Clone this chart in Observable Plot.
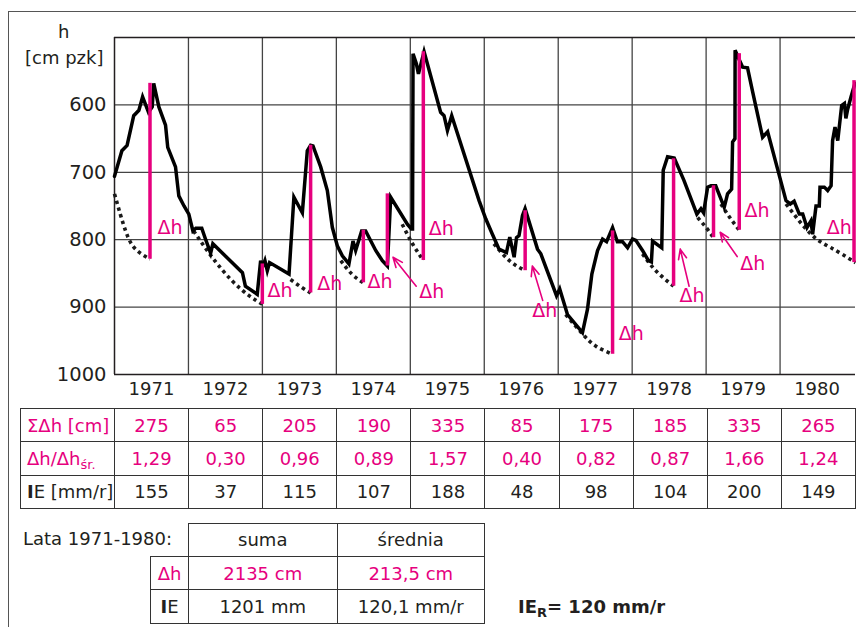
<!DOCTYPE html>
<html><head><meta charset="utf-8">
<script src="https://cdn.jsdelivr.net/npm/d3@7"></script>
<script src="https://cdn.jsdelivr.net/npm/@observablehq/plot@0.6"></script>
<style>
body{margin:0;background:#fff;}
#wrap{position:relative;width:856px;height:627px;overflow:hidden;font-family:"DejaVu Sans",sans-serif;color:#231f20;}
#frame{position:absolute;left:8px;top:11px;width:900px;height:700px;border-top:1.5px solid #555;border-left:1.5px solid #555;box-sizing:border-box;}
#wrap svg{position:absolute;left:0;top:0;}
table{position:absolute;border-collapse:collapse;table-layout:fixed;font-size:18px;}
td{border:1.5px solid #333;text-align:center;padding:0;white-space:nowrap;overflow:visible;}
.m{color:#e6007e;}
.lbl{text-align:left;padding-left:6px;}
.abs{position:absolute;white-space:nowrap;font-size:18px;line-height:1;}
sub{font-size:13px;vertical-align:-4px;line-height:0;}
</style></head><body><div id="wrap"><div id="frame"></div></div>
<script>
const MAG = "#e6007e";
const INK = "#231f20";

// table data
const years = [1971,1972,1973,1974,1975,1976,1977,1978,1979,1980];
const sumDh = [275,65,205,190,335,85,175,185,335,265];
const ratio = ["1,29","0,30","0,96","0,89","1,57","0,40","0,82","0,87","1,66","1,24"];
const ieYear = [155,37,115,107,188,48,98,104,200,149];
const yTicks = [600,700,800,900,1000];
const summaryCols = ["suma","średnia"];
const summaryDh = ["2135 cm","213,5 cm"];
const summaryIE = ["1201 mm","120,1 mm/r"];

// groundwater level h [cm pzk] vs time (decimal years)
const hydroT = [1971.00,1971.10,1971.17,1971.26,1971.33,1971.38,1971.46,1971.51,1971.53,1971.60,1971.69,1971.72,1971.825,1971.87,1971.94,1972.005,1972.06,1972.10,1972.18,1972.23,1972.30,1972.33,1972.73,1972.77,1972.93,1972.976,1973.00,1973.034,1973.066,1973.097,1973.36,1973.426,1973.54,1973.607,1973.652,1973.684,1973.788,1973.878,1973.946,1974.013,1974.081,1974.17,1974.225,1974.261,1974.342,1974.396,1974.532,1974.622,1974.69,1974.735,1974.96,1975.015,1975.03,1975.037,1975.082,1975.11,1975.186,1975.41,1975.456,1975.502,1975.56,1975.93,1976.02,1976.11,1976.20,1976.30,1976.345,1976.404,1976.436,1976.47,1976.517,1976.552,1976.72,1976.765,1976.977,1977.02,1977.125,1977.328,1977.396,1977.455,1977.532,1977.60,1977.654,1977.735,1977.80,1977.87,1977.938,1978.005,1978.05,1978.14,1978.22,1978.26,1978.276,1978.40,1978.42,1978.479,1978.569,1978.70,1978.875,1978.93,1978.966,1979.02,1979.065,1979.13,1979.245,1979.29,1979.345,1979.358,1979.39,1979.392,1979.448,1979.494,1979.56,1979.63,1979.764,1979.832,1980.08,1980.138,1980.19,1980.26,1980.306,1980.364,1980.418,1980.44,1980.486,1980.53,1980.54,1980.598,1980.644,1980.69,1980.71,1980.743,1980.78,1980.833,1980.87,1980.89,1980.915,1980.96,1981.013];
const hydroH = [706,668,660,616,608,588,611,603,568,603,630,663,692,735,750,762,787,783,783,799,820,806,849,869,881,831,841,831,846,834,851,737,760,668,660,661,692,727,782,809,824,836,802,816,787,787,816,831,839,737,777,784,784,524,539,554,521,611,616,638,616,742,769,792,814,819,796,826,797,794,764,754,814,821,883,873,911,938,903,851,816,799,803,782,803,803,812,799,801,816,831,833,802,812,697,677,679,712,762,754,760,722,720,720,752,732,725,655,650,519,533,544,545,581,648,640,742,747,743,762,762,782,772,792,750,750,722,722,727,720,653,633,653,601,598,620,606,588,568];

// recession (dotted) curves
const recId = [1,1,1,1, 2,2,2,2,2, 3,3,3, 4,4,4, 5,5,5, 6,6,6, 7,7,7,7, 8,8,8, 9,9,9, 10,10,10, 11,11,11,11];
const recT = [1971.0,1971.15,1971.285,1971.48, 1972.07,1972.32,1972.59,1972.82,1973.0, 1973.38,1973.52,1973.652, 1974.06,1974.21,1974.365, 1974.89,1975.03,1975.176, 1976.13,1976.34,1976.553, 1977.10,1977.33,1977.51,1977.735, 1978.14,1978.32,1978.56, 1978.885,1979.0,1979.10, 1979.2,1979.32,1979.448, 1980.08,1980.42,1980.69,1981.02];
const recH = [732,787,814,829, 787,826,861,883,896, 859,870,879, 831,851,864, 777,806,831, 806,831,846, 911,940,958,970, 821,846,869, 767,782,797, 747,767,786, 747,792,812,834];

// Δh bars
const barT = [1971.48,1972.999,1973.652,1974.365,1974.69,1975.176,1976.553,1977.735,1978.56,1979.10,1979.448,1981.0];
const barTop = [568,836,660,786,732,521,757,787,680,720,524,564];
const barBottom = [829,896,879,864,839,831,846,970,869,797,786,834];

// Δh labels
const labT = [1971.58,1973.07,1973.74,1974.42,1975.12,1975.25,1976.65,1977.82,1978.64,1979.46,1979.52,1980.63];
const labH = [782,876,865,862,877,784,906,940,883,836,758,782];

// arrows from labels to bars
const arrT1 = [1975.08,1976.79,1978.77,1979.42];
const arrH1 = [869,890,869,825];
const arrT2 = [1974.766,1976.65,1978.65,1979.19];
const arrH2 = [826,839,814,789];

const hydro = hydroT.map((t,i)=>({t, h: hydroH[i]}));
const rec = recT.map((t,i)=>({t, h: recH[i], id: recId[i]}));
const bars = barT.map((t,i)=>({t, top: barTop[i], bottom: barBottom[i]}));
const labs = labT.map((t,i)=>({t, h: labH[i]}));
const arrs = arrT1.map((t,i)=>({x1:t, y1:arrH1[i], x2:arrT2[i], y2:arrH2[i]}));
const inner = years.slice(1);

const chart = Plot.plot({
  width: 856, height: 627,
  marginLeft: 114, marginRight: 1, marginTop: 37, marginBottom: 253,
  x: {domain: [1971, 1981.02]},
  y: {domain: [1000, 500]},
  style: {fontFamily: "DejaVu Sans, sans-serif", fontSize: "18px", color: INK, background: "none"},
  marks: [
    Plot.ruleX(inner, {stroke: "#444", strokeWidth: 1.3}),
    Plot.ruleY([600,700,800,900], {stroke: "#444", strokeWidth: 1.3}),
    Plot.ruleY([500, 1000], {stroke: INK, strokeWidth: 1.5}),
    Plot.ruleX([1971], {stroke: INK, strokeWidth: 1.5}),
    Plot.line(rec, {x: "t", y: "h", z: "id", curve: "natural", stroke: "#1a1a1a", strokeWidth: 3.6, strokeDasharray: "3.4,3.6", strokeLinecap: "butt"}),
    Plot.line(hydro, {x: "t", y: "h", stroke: "#000", strokeWidth: 3.5, strokeLinejoin: "miter", strokeMiterlimit: 4}),
    Plot.ruleX(bars, {x: "t", y1: "top", y2: "bottom", stroke: MAG, strokeWidth: 3.5}),
    Plot.arrow(arrs, {x1: "x1", y1: "y1", x2: "x2", y2: "y2", stroke: MAG, strokeWidth: 1.6, headLength: 10, headAngle: 45}),
    Plot.text(labs, {x: "t", y: "h", text: () => "\u0394h", textAnchor: "start", fill: MAG, fontSize: 19}),
    Plot.axisY(yTicks, {tickSize: 0, tickPadding: 8, label: null, tickFormat: d => String(d), fontSize: 19.5, fill: INK}),
    Plot.axisX(years.map(y => y + 0.5), {tickSize: 0, tickPadding: 8, label: null, tickFormat: d => String(Math.floor(d)), fontSize: 18, fill: INK})
  ]
});
const wrap = document.getElementById("wrap");
wrap.appendChild(chart);

function div(html, css){ const d=document.createElement("div"); d.className="abs"; d.innerHTML=html; Object.assign(d.style, css); wrap.appendChild(d); return d; }
div("h", {left:"58px", top:"23px"});
div("[cm pzk]", {left:"25px", top:"49px"});

// yearly table
let t = '<colgroup><col style="width:94px">' + years.map(()=>'<col style="width:74.1px">').join("") + '</colgroup>';
t += '<tr style="height:33.3px"><td class="lbl m">\u03a3\u0394h [cm]</td>' + sumDh.map(v=>`<td class="m">${v}</td>`).join("") + '</tr>';
t += '<tr style="height:33.3px"><td class="lbl m">\u0394h/\u0394h<sub>śr.</sub></td>' + ratio.map(v=>`<td class="m">${v}</td>`).join("") + '</tr>';
t += '<tr style="height:33.3px"><td class="lbl"><b>I</b>E [mm/r]</td>' + ieYear.map(v=>`<td>${v}</td>`).join("") + '</tr>';
const tb = document.createElement("table");
tb.innerHTML = t;
Object.assign(tb.style, {left:"20px", top:"408px", width:"835px"});
wrap.appendChild(tb);

// summary table
let s = '<colgroup><col style="width:38px"><col style="width:148.5px"><col style="width:147.5px"></colgroup>';
s += '<tr style="height:33.4px"><td style="border-top:none;border-left:none"></td>' + summaryCols.map(v=>`<td>${v}</td>`).join("") + '</tr>';
s += '<tr style="height:33.4px"><td class="m">\u0394h</td>' + summaryDh.map(v=>`<td class="m">${v}</td>`).join("") + '</tr>';
s += '<tr style="height:33.4px"><td><b>I</b>E</td>' + summaryIE.map(v=>`<td>${v}</td>`).join("") + '</tr>';
const sb = document.createElement("table");
sb.innerHTML = s;
Object.assign(sb.style, {left:"150px", top:"522.7px", width:"334px"});
wrap.appendChild(sb);

div("Lata 1971-1980:", {left:"23px", top:"530px"});
div("<b>IE<sub>R</sub>= 120 mm/r</b>", {left:"518px", top:"598px"});
</script></body></html>
